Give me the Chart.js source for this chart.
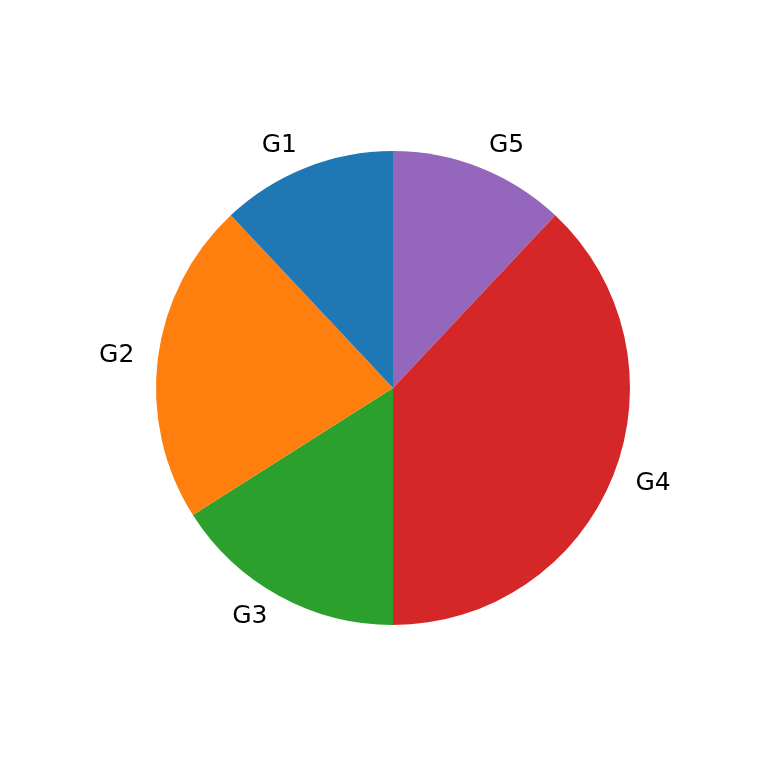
<!DOCTYPE html>
<html>
<head>
<meta charset="utf-8">
<script src="https://cdn.jsdelivr.net/npm/chart.js@4"></script>
<style>
  html, body { margin: 0; padding: 0; background: #fff; }
</style>
</head>
<body>
<canvas id="pieChart" width="768" height="768"></canvas>
<script>
// Pie data (percent)
const groups = ["G1", "G2", "G3", "G4", "G5"];
const shares = [12, 22, 16, 38, 12];
const colors = ["#1f77b4", "#ff7f0e", "#2ca02c", "#d62728", "#9467bd"];

// matplotlib goes counterclockwise from the top, Chart.js clockwise,
// so feed the slices in reverse order
const labels = groups.slice().reverse();
const values = shares.slice().reverse();
const fills = colors.slice().reverse();

// Draw slice names outside the pie, like matplotlib (1.1 x radius)
const outsideLabels = {
  id: "outsideLabels",
  afterDraw(chart) {
    const ctx = chart.ctx;
    const arcs = chart.getDatasetMeta(0).data;
    ctx.save();
    ctx.font = "25px 'DejaVu Sans'";
    ctx.fillStyle = "#000";
    ctx.textBaseline = "middle";
    arcs.forEach((arc, i) => {
      const mid = (arc.startAngle + arc.endAngle) / 2;
      const r = arc.outerRadius * 1.1;
      const x = arc.x + r * Math.cos(mid);
      const y = arc.y + r * Math.sin(mid);
      ctx.textAlign = x > arc.x ? "left" : "right";
      ctx.fillText(chart.data.labels[i], x, y);
    });
    ctx.restore();
  },
};

new Chart(document.getElementById("pieChart"), {
  type: "pie",
  data: {
    labels: labels,
    datasets: [
      {
        data: values,
        backgroundColor: fills,
        borderWidth: 0,
      },
    ],
  },
  options: {
    responsive: false,
    animation: false,
    layout: {
      padding: { left: 156, right: 138, top: 151, bottom: 143 },
    },
    plugins: {
      legend: { display: false },
      tooltip: { enabled: false },
    },
  },
  plugins: [outsideLabels],
});
</script>
</body>
</html>
